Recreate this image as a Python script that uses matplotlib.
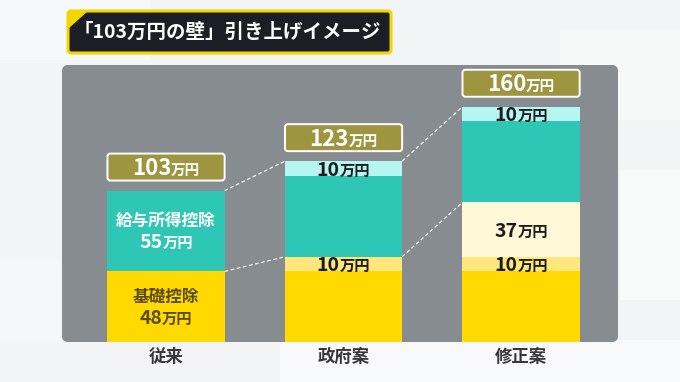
import matplotlib
matplotlib.use('Agg')
import matplotlib.pyplot as plt
from matplotlib.patches import FancyBboxPatch, Rectangle, Polygon
from matplotlib.transforms import ScaledTranslation

plt.rcParams['font.family'] = ['Noto Sans CJK JP', 'DejaVu Sans']

# ---- data ----
categories = ['従来', '政府案', '修正案']
basic = [48, 48, 48]          # 基礎控除
basic_add = [0, 10, 10]       # 基礎控除 上乗せ
special = [0, 0, 37]          # 修正案 追加分
salary = [55, 55, 55]         # 給与所得控除
salary_add = [0, 10, 10]      # 給与所得控除 上乗せ
totals = [103, 123, 160]
title = '「103万円の壁」引き上げイメージ'

W, H = 680, 382
DPI = 100
fig = plt.figure(figsize=(W / DPI, H / DPI), dpi=DPI)
fig.patch.set_facecolor('#f2f4f5')

def fx(px):
    return px / W

def fy(py):
    return 1 - py / H

# faint background shapes
for (x0, y0, x1, y1, c) in [(0, 0, 150, 60, '#f7f8f9'), (560, 30, 680, 120, '#f7f9f9'),
                            (620, 170, 680, 300, '#f8fafa'), (280, 340, 680, 382, '#f8f9fa'),
                            (0, 260, 60, 340, '#f6f7f8')]:
    fig.add_artist(Rectangle((fx(x0), fy(y1)), fx(x1) - fx(x0), fy(y0) - fy(y1),
                             transform=fig.transFigure, facecolor=c, edgecolor='none', zorder=0))

# gray panel
pl, pt, pr, pb = 62, 65, 618, 342
fig.add_artist(FancyBboxPatch((fx(pl), fy(pb)), fx(pr) - fx(pl), fy(pt) - fy(pb),
                              boxstyle='round,pad=0,rounding_size=%f' % (6 / W),
                              mutation_aspect=W / H, transform=fig.transFigure,
                              facecolor='#878c91', edgecolor='none', zorder=1))

# title box
tl, tt, tr, tb = 68, 11, 391, 53
fig.add_artist(FancyBboxPatch((fx(tl), fy(tb)), fx(tr) - fx(tl), fy(tt) - fy(tb),
                              boxstyle='round,pad=0,rounding_size=%f' % (3 / W),
                              mutation_aspect=W / H, transform=fig.transFigure,
                              facecolor='#1b1f25', edgecolor='#f3d500', linewidth=2.2, zorder=2))
fig.add_artist(Polygon([(fx(tl), fy(tt)), (fx(tl + 20), fy(tt)), (fx(tl), fy(tt + 18))],
                       closed=True, transform=fig.transFigure, facecolor='#f3d500',
                       edgecolor='none', zorder=3))
fig.text(fx(74), fy(32), title, color='white', fontsize=14, fontweight='bold',
         ha='left', va='center', zorder=4)

# chart axes
ax = fig.add_axes([fx(pl), fy(pb), fx(pr) - fx(pl), fy(pt) - fy(pb)])
ax.set_zorder(5)
ax.set_xlim(-0.586, 2.546)
ax.set_ylim(0, 188.4)
ax.axis('off')
ax.patch.set_alpha(0)

x = list(range(len(categories)))
bw = 0.66
c_yellow, c_lyellow, c_cream = '#ffd900', '#ffe67d', '#fff8d6'
c_teal, c_cyan = '#2ec6b5', '#b6f6f1'

b0 = [0] * 3
b1 = [a + b for a, b in zip(b0, basic)]
b2 = [a + b for a, b in zip(b1, basic_add)]
b3 = [a + b for a, b in zip(b2, special)]
b4 = [a + b for a, b in zip(b3, salary)]
ax.bar(x, basic, bw, bottom=b0, color=c_yellow, zorder=3)
ax.bar(x, basic_add, bw, bottom=b1, color=c_lyellow, zorder=3)
ax.bar(x, special, bw, bottom=b2, color=c_cream, zorder=3)
ax.bar(x, salary, bw, bottom=b3, color=c_teal, zorder=3)
ax.bar(x, salary_add, bw, bottom=b4, color=c_cyan, zorder=3)

# dashed connectors between salary segments
for i in range(len(x) - 1):
    for ya, yb in [(totals[i], totals[i + 1]), (b3[i], b3[i + 1])]:
        ax.plot([x[i] + bw / 2, x[i + 1] - bw / 2], [ya, yb], color='white',
                lw=0.9, ls=(0, (3, 2)), alpha=0.9, zorder=2)

renderer = fig.canvas.get_renderer()

def num_unit(xc, yc, num, unit, sn, su, color, weight='bold'):
    t1 = ax.text(xc, yc, num, fontsize=sn, color=color, fontweight=weight,
                 ha='left', va='baseline', zorder=6)
    t2 = ax.text(xc, yc, unit, fontsize=su, color=color, fontweight=weight,
                 ha='left', va='baseline', zorder=6)
    w1 = t1.get_window_extent(renderer).width
    w2 = t2.get_window_extent(renderer).width
    tot = w1 + w2
    dy = -0.365 * sn / 72
    t1.set_transform(ax.transData + ScaledTranslation(-tot / 2 / DPI, dy, fig.dpi_scale_trans))
    t2.set_transform(ax.transData + ScaledTranslation((-tot / 2 + w1) / DPI, dy, fig.dpi_scale_trans))

# total boxes
px_per = 277 / 188.4
gap = 10 / px_per
hbox = 27 / px_per
xr = 177.5
for xi, t in zip(x, totals):
    ax.add_patch(FancyBboxPatch((xi - bw / 2, t + gap), bw, hbox,
                                boxstyle='round,pad=0,rounding_size=%f' % (3 / xr),
                                mutation_aspect=xr / px_per,
                                facecolor='#9e9540', edgecolor='white', linewidth=1.4,
                                zorder=5, clip_on=False))
    num_unit(xi, t + gap + hbox / 2, str(t), '万円', 16, 10.5, 'white')

# segment labels
dark = '#1c1c1c'
olive_txt = '#5b4c12'
ax.text(x[0], b0[0] + basic[0] / 2 + 7.0, '基礎控除', fontsize=12, fontweight='bold',
        color=olive_txt, ha='center', va='center', zorder=6)
num_unit(x[0], b0[0] + basic[0] / 2 - 6.7, str(basic[0]), '万円', 14, 11, olive_txt)
ax.text(x[0], b3[0] + salary[0] / 2 + 6.8, '給与所得控除', fontsize=12, fontweight='bold',
        color='white', ha='center', va='center', zorder=6)
num_unit(x[0], b3[0] + salary[0] / 2 - 6.5, str(salary[0]), '万円', 14, 11, 'white')
for i in (1, 2):
    num_unit(x[i], b1[i] + basic_add[i] / 2, str(basic_add[i]), '万円', 14, 11, dark)
    num_unit(x[i], b4[i] + salary_add[i] / 2, str(salary_add[i]), '万円', 14, 11, dark)
    if special[i]:
        num_unit(x[i], b2[i] + special[i] / 2, str(special[i]), '万円', 14, 11, dark)

# category labels
for xi, c in zip(x, categories):
    ax.text(xi, -15 / px_per, c, fontsize=12.5, fontweight='bold', color='#383838',
            ha='center', va='center', clip_on=False)

fig.savefig('out.png', dpi=DPI, facecolor=fig.get_facecolor())
